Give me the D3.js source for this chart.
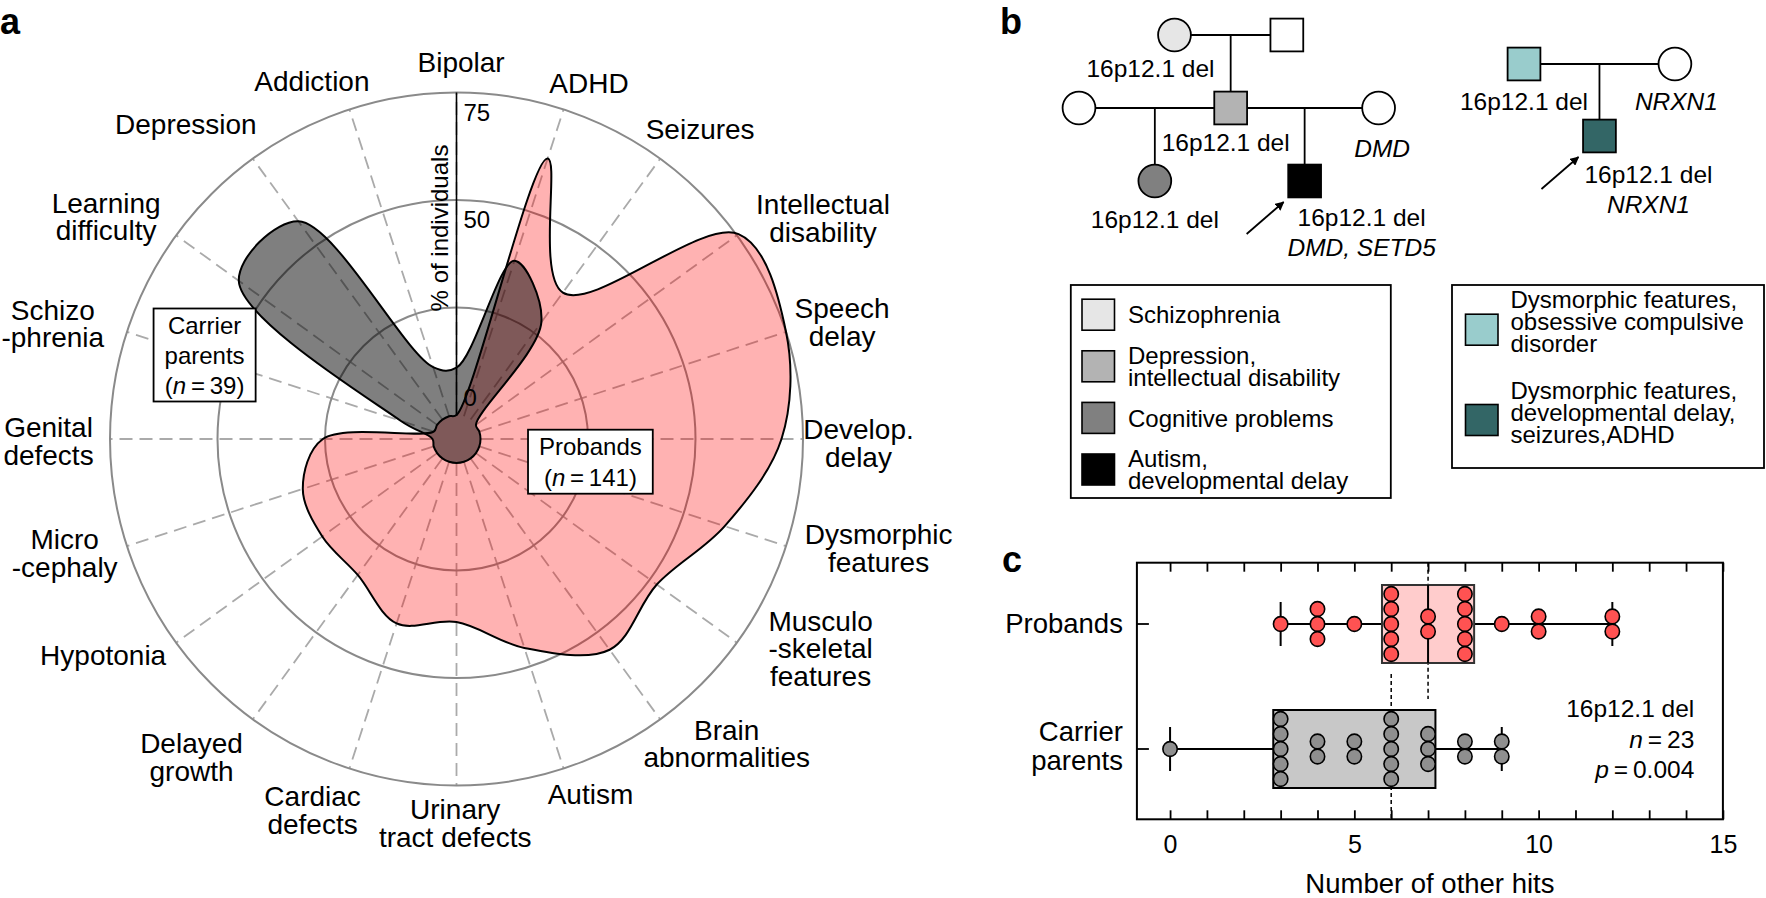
<!DOCTYPE html>
<html><head><meta charset="utf-8">
<script src="https://cdn.jsdelivr.net/npm/d3@7"></script>
<style>
html,body{margin:0;padding:0;background:#fff;}
svg{display:block;font-family:"Liberation Sans",Arial,Helvetica,sans-serif;}
</style></head><body>
<svg id="fig" width="1766" height="898"></svg>
<script>
// ---------------- DATA ----------------
// Panel a: phenotype frequencies (% of individuals)
const categories = ["Bipolar","ADHD","Seizures","Intellectual\ndisability","Speech\ndelay","Develop.\ndelay","Dysmorphic\nfeatures","Musculo\n-skeletal\nfeatures","Brain\nabnormalities","Autism","Urinary\ntract defects","Cardiac\ndefects","Delayed\ngrowth","Hypotonia","Micro\n-cephaly","Genital\ndefects","Schizo\n-phrenia","Learning\ndifficulty","Depression","Addiction"];
const probandPct = [0,63,36.5,75.5,75,70,60,52,55,45.5,37,39.5,33.5,33,32,25.5,0,0,0,0];
const carrierPct = [11,38,28,0,0,0,0,0,0,0,0,0,0,0,0,0,8,57,57,12];
const radialTickValues = [0,50,75];
const ringValues = [25,50,75];
const groupNames = [["Carrier","parents"],["Probands"]];
const groupN = [39,141];

// Panel b: pedigrees
const phenotypeLegend1 = [
  {key:"schizophrenia", lines:["Schizophrenia"]},
  {key:"depID", lines:["Depression,","intellectual disability"]},
  {key:"cognitive", lines:["Cognitive problems"]},
  {key:"autismDD", lines:["Autism,","developmental delay"]}
];
const phenotypeLegend2 = [
  {key:"dysOCD", lines:["Dysmorphic features,","obsessive compulsive","disorder"]},
  {key:"dysDD", lines:["Dysmorphic features,","developmental delay,","seizures,ADHD"]}
];
const family1 = [
  {id:"gm", sex:"F", pheno:"schizophrenia", geno:[["16p12.1 del",0]]},
  {id:"gf", sex:"M", pheno:"none", geno:[]},
  {id:"mo1", sex:"F", pheno:"none", geno:[]},
  {id:"fa", sex:"M", pheno:"depID", geno:[["16p12.1 del",0]]},
  {id:"mo2", sex:"F", pheno:"none", geno:[["DMD",1]]},
  {id:"da", sex:"F", pheno:"cognitive", geno:[["16p12.1 del",0]]},
  {id:"so", sex:"M", pheno:"autismDD", geno:[["16p12.1 del",0],["DMD, SETD5",1]], proband:true}
];
const family1Unions = [["gm","gf",["fa"]],["mo1","fa",["da"]],["fa","mo2",["so"]]];
const family2 = [
  {id:"fa", sex:"M", pheno:"dysOCD", geno:[["16p12.1 del",0]]},
  {id:"mo", sex:"F", pheno:"none", geno:[["NRXN1",1]]},
  {id:"so", sex:"M", pheno:"dysDD", geno:[["16p12.1 del",0],["NRXN1",1]], proband:true}
];
const family2Unions = [["fa","mo",["so"]]];

// Panel c: number of other hits
const rowNames = ["Probands","Carrier\nparents"];
const probandHits = [3,4,4,4,5,6,6,6,6,6,7,7,8,8,8,8,8,9,10,10,12,12];
const carrierHits = [0,3,3,3,3,3,4,4,5,5,6,6,6,6,6,7,7,7,8,8,9,9];
const boxStats = [
  {min:3, q1:5.75, med:7, q3:8.25, max:12},
  {min:0, q1:2.8, med:6, q3:7.2, max:9}
];
const xTickLabels = [0,5,10,15];
const statLines = [["16p12.1 del",""],["n","23"],["p","0.004"]];

// ---------------- STYLE / LAYOUT ----------------
const svg = d3.select("#fig");
const phenoColor = {schizophrenia:"#e6e6e6", depID:"#b3b3b3", cognitive:"#808080", autismDD:"#000000", dysOCD:"#99cccc", dysDD:"#336666", none:"#ffffff"};
// label placement around the polar plot: [angle shift (deg), radius (px)] of each label block centre
const labelLayout = [[0.7,377],[2.4,380],[2.2,394],[4.9,428],[1.1,403],[0.6,402],[-3.5,436],[-6.1,420],[-5.6,407],[-2.7,379],[0.2,384],[3.2,398],[3.8,414],[4.6,414],[1.8,408],[-0.3,408],[-2,420],[-3.6,415],[-4.7,415],[-4,386]];

// panel labels
[["a",0,34],["b",1000,34],["c",1002,572]].forEach(([t,x,y])=>{
  svg.append("text").attr("x",x).attr("y",y).attr("font-size",36).attr("font-weight","bold").text(t);
});

// ================= PANEL A =================
const cx = 456.5, cy = 439;
const nCat = categories.length;
const r = d3.scaleLinear().domain([0,75]).range([24,346.5]);
const ang = d3.scaleLinear().domain([0,nCat]).range([0,2*Math.PI]);
const gA = svg.append("g").attr("transform",`translate(${cx},${cy})`);

gA.selectAll("line.spoke").data(categories).join("line").attr("class","spoke")
  .attr("x1",(d,i)=>r(0)*Math.sin(ang(i))).attr("y1",(d,i)=>-r(0)*Math.cos(ang(i)))
  .attr("x2",(d,i)=>r(75)*Math.sin(ang(i))).attr("y2",(d,i)=>-r(75)*Math.cos(ang(i)))
  .attr("stroke","#aaaaaa").attr("stroke-width",1.8).attr("stroke-dasharray","13,7");
gA.selectAll("circle.ring").data(ringValues).join("circle").attr("class","ring")
  .attr("r",d=>r(d)).attr("fill","none").attr("stroke","#8a8a8a").attr("stroke-width",2);

const radial = d3.lineRadial().angle((d,i)=>ang(i)).radius(d=>r(d)).curve(d3.curveCatmullRomClosed.alpha(0.5));
gA.append("path").attr("d",radial(probandPct)).attr("fill","rgba(255,0,0,0.3)").attr("stroke","#000").attr("stroke-width",2).attr("stroke-linejoin","round");
gA.append("path").attr("d",radial(carrierPct)).attr("fill","rgba(0,0,0,0.5)").attr("stroke","#000").attr("stroke-width",2).attr("stroke-linejoin","round");

// radial axis
gA.append("line").attr("x1",0).attr("x2",0).attr("y1",-r(0)+1).attr("y2",-r(75)).attr("stroke","#000").attr("stroke-width",1.6);
gA.selectAll("text.rtick").data(radialTickValues).join("text").attr("class","rtick")
  .attr("x",7).attr("y",d=> d===0 ? -r(d)-9 : -r(d)+28).attr("font-size",24).text(d=>d);
gA.append("text").attr("transform",`translate(-9,${-211}) rotate(-90)`).attr("text-anchor","middle").attr("font-size",24).text("% of individuals");

// category labels
const LS = 27.5, FS = 28, CAP = 0.716*FS;
categories.forEach((c,i)=>{
  const lines = c.split("\n");
  const L = lines.length;
  const th = ang(i) + labelLayout[i][0]*Math.PI/180, rad = labelLayout[i][1];
  const px = rad*Math.sin(th), py = -rad*Math.cos(th);
  const y0 = py - ((L-1)*LS - CAP)/2;
  const t = gA.append("text").attr("text-anchor","middle").attr("font-size",FS);
  lines.forEach((ln,k)=>t.append("tspan").attr("x",px).attr("y",y0+k*LS).text(ln));
});

// group annotation boxes
function annotBox(lines, nval, centerX, centerY, spacing){
  const g = svg.append("g");
  const t = g.append("text").attr("text-anchor","middle").attr("font-size",24);
  lines.forEach((ln,k)=>t.append("tspan").attr("x",centerX).attr("y",k*spacing).text(ln));
  const last = t.append("tspan").attr("x",centerX).attr("y",lines.length*spacing);
  last.append("tspan").text("(");
  last.append("tspan").attr("font-style","italic").text("n");
  last.append("tspan").text("\u2009=\u2009"+nval+")");
  const bb = t.node().getBBox();
  t.attr("transform",`translate(0,${centerY-(bb.y+bb.height/2)})`);
  const padX = 11, padY = 3;
  g.insert("rect","text").attr("x",centerX-bb.width/2-padX).attr("y",centerY-bb.height/2-padY)
    .attr("width",bb.width+2*padX).attr("height",bb.height+2*padY)
    .attr("fill","#fff").attr("stroke","#000").attr("stroke-width",1.8);
}
annotBox(groupNames[0], groupN[0], 204.6, 355, 30);
annotBox(groupNames[1], groupN[1], 590.4, 461.7, 31);

// ================= PANEL B =================
const defs = svg.append("defs");
defs.append("marker").attr("id","arrow").attr("viewBox","0 0 10 10").attr("refX",9).attr("refY",5)
  .attr("markerWidth",5).attr("markerHeight",5).attr("orient","auto")
  .append("path").attr("d","M0,0 L10,5 L0,10 z").attr("fill","#000");

function drawPedigree(members, unions, pos, origin, unit, genStep, labelOffsets){
  const g = svg.append("g");
  const byId = {};
  members.forEach(m=>{ byId[m.id] = {...m, x: origin[0]+pos[m.id][0]*unit, y: origin[1]+pos[m.id][1]*genStep}; });
  const half = 16.4;
  unions.forEach(([a,b,kids])=>{
    const A = byId[a], B = byId[b];
    g.append("line").attr("x1",A.x).attr("x2",B.x).attr("y1",A.y).attr("y2",A.y).attr("stroke","#000").attr("stroke-width",1.8);
    const mx = (A.x+B.x)/2;
    kids.forEach(k=>{
      const K = byId[k];
      g.append("line").attr("x1",mx).attr("x2",mx).attr("y1",A.y).attr("y2",K.y-half).attr("stroke","#000").attr("stroke-width",1.8);
    });
  });
  Object.values(byId).forEach(m=>{
    const fill = phenoColor[m.pheno];
    if (m.sex==="M"){
      g.append("rect").attr("x",m.x-half).attr("y",m.y-half).attr("width",2*half).attr("height",2*half)
        .attr("fill",fill).attr("stroke","#000").attr("stroke-width",1.8);
    } else {
      g.append("circle").attr("cx",m.x).attr("cy",m.y).attr("r",half).attr("fill",fill).attr("stroke","#000").attr("stroke-width",1.8);
    }
    const off = labelOffsets[m.id];
    m.geno.forEach(([txt,it],k)=>{
      g.append("text").attr("x",m.x+off[0]).attr("y",m.y+off[1]+k*30).attr("text-anchor","middle")
        .attr("font-size",24.5).attr("font-style",it?"italic":"normal").text(txt);
    });
    if (m.proband){
      g.append("line").attr("x1",m.x-58).attr("y1",m.y+53).attr("x2",m.x-21).attr("y2",m.y+21)
        .attr("stroke","#000").attr("stroke-width",1.8).attr("marker-end","url(#arrow)");
    }
  });
}
drawPedigree(family1, family1Unions,
  {gm:[2.55,0], gf:[5.55,0], mo1:[0,1], fa:[4.05,1], mo2:[8,1], da:[2.025,2], so:[6.025,2]},
  [1079,35], 37.45, 73,
  {gm:[-24,42], gf:[0,0], mo1:[0,0], fa:[-5,43], mo2:[3.5,49], da:[0,46.5], so:[57,45]});
drawPedigree(family2, family2Unions,
  {fa:[0,0], mo:[4.03,0], so:[2.015,1]},
  [1524,64], 37.45, 72,
  {fa:[0,46], mo:[1.5,46], so:[49,46.5]});

function drawLegend(items, box, swX, txtX, firstY, step, txtShift){
  const g = svg.append("g");
  g.append("rect").attr("x",box[0]).attr("y",box[1]).attr("width",box[2]).attr("height",box[3])
    .attr("fill","#fff").attr("stroke","#000").attr("stroke-width",1.8);
  items.forEach((it,i)=>{
    const yc = firstY + i*step;
    g.append("rect").attr("x",swX).attr("y",yc-15.5).attr("width",32.5).attr("height",31)
      .attr("fill",phenoColor[it.key]).attr("stroke","#000").attr("stroke-width",1.6);
    const L = it.lines.length;
    it.lines.forEach((ln,k)=>{
      g.append("text").attr("x",txtX).attr("y",yc+8.6-(L-1)*11+k*22+txtShift).attr("font-size",24).text(ln);
    });
  });
}
drawLegend(phenotypeLegend1, [1070.8,285,320,213], 1082, 1128, 314.7, 51.6, 0);
drawLegend(phenotypeLegend2, [1452,285,312,183], 1465.5, 1510.5, 329.7, 90.3, -8);

// ================= PANEL C =================
const frame = {l:1136.9, r:1722.9, t:562.7, b:819.3};
const x = d3.scaleLinear().domain([-0.9,15]).range([frame.l, frame.r]);
const y = d3.scalePoint().domain(rowNames).range([624,749]);
const step = 125;
const gC = svg.append("g");

const boxFill = ["#ffcccc","#c8c8c8"];
const dotFill = ["#ff5252","#8f8f8f"];
boxStats.forEach((b,i)=>{
  const yc = y(rowNames[i]);
  gC.append("line").attr("x1",x(b.med)).attr("x2",x(b.med))
    .attr("y1",Math.max(frame.t, yc-0.6*step)).attr("y2",Math.min(frame.b, yc+0.6*step))
    .attr("stroke","#000").attr("stroke-width",1.5).attr("stroke-dasharray","4,3");
});
boxStats.forEach((b,i)=>{
  const yc = y(rowNames[i]);
  gC.append("line").attr("x1",x(b.min)).attr("x2",x(b.max)).attr("y1",yc).attr("y2",yc).attr("stroke","#000").attr("stroke-width",2);
  [b.min,b.max].forEach(v=>gC.append("line").attr("x1",x(v)).attr("x2",x(v)).attr("y1",yc-22).attr("y2",yc+22).attr("stroke","#000").attr("stroke-width",2));
  gC.append("rect").attr("x",x(b.q1)).attr("y",yc-39).attr("width",x(b.q3)-x(b.q1)).attr("height",78)
    .attr("fill",boxFill[i]).attr("stroke",i===0?"#333":"#000").attr("stroke-width",2);
  gC.append("line").attr("x1",x(b.med)).attr("x2",x(b.med)).attr("y1",yc-39).attr("y2",yc+39).attr("stroke","#000").attr("stroke-width",2);
});
[probandHits, carrierHits].forEach((arr,i)=>{
  const yc = y(rowNames[i]);
  const counts = d3.rollups(arr, v=>v.length, d=>d);
  const pts = [];
  counts.forEach(([v,k])=>{ for(let j=0;j<k;j++) pts.push({v, off:(j-(k-1)/2)*15}); });
  gC.selectAll(null).data(pts).join("ellipse")
    .attr("cx",d=>x(d.v)).attr("cy",d=>yc+d.off).attr("rx",7.2).attr("ry",7.4)
    .attr("fill",dotFill[i]).attr("stroke","#000").attr("stroke-width",1.6);
});

gC.append("rect").attr("x",frame.l).attr("y",frame.t).attr("width",frame.r-frame.l).attr("height",frame.b-frame.t)
  .attr("fill","none").attr("stroke","#000").attr("stroke-width",2);
const ticks = d3.range(0,16);
const ax = gC.append("g").attr("transform",`translate(0,${frame.b})`)
  .call(d3.axisBottom(x).tickValues(ticks).tickSize(-9).tickPadding(16).tickFormat(d=>xTickLabels.includes(d)?d:""));
const axT = gC.append("g").attr("transform",`translate(0,${frame.t})`)
  .call(d3.axisTop(x).tickValues(ticks).tickSize(-9).tickFormat(""));
[ax,axT].forEach(a=>{ a.select(".domain").remove(); a.selectAll("line").attr("stroke-width",1.8); a.selectAll("text").attr("font-size",25).attr("font-family",'"Liberation Sans",Arial,sans-serif'); });
gC.append("text").attr("x",(frame.l+frame.r)/2).attr("y",893).attr("text-anchor","middle").attr("font-size",27.5).text("Number of other hits");
rowNames.forEach(nm=>{
  const yc = y(nm);
  gC.append("line").attr("x1",frame.l).attr("x2",frame.l+12).attr("y1",yc).attr("y2",yc).attr("stroke","#000").attr("stroke-width",1.8);
  const lines = nm.split("\n");
  lines.forEach((ln,k)=>{
    gC.append("text").attr("x",frame.l-14).attr("y",yc+9.3-(lines.length-1)*14.65+k*29.3-(lines.length>1?3:0))
      .attr("text-anchor","end").attr("font-size",27.5).text(ln);
  });
});
statLines.forEach(([a,b],k)=>{
  const t = gC.append("text").attr("x",1694.3).attr("y",716.7+k*30.8).attr("text-anchor","end").attr("font-size",24.5);
  if (b===""){ t.text(a); }
  else { t.append("tspan").attr("font-style","italic").text(a); t.append("tspan").text("\u2009=\u2009"+b); }
});
</script>
</body></html>
